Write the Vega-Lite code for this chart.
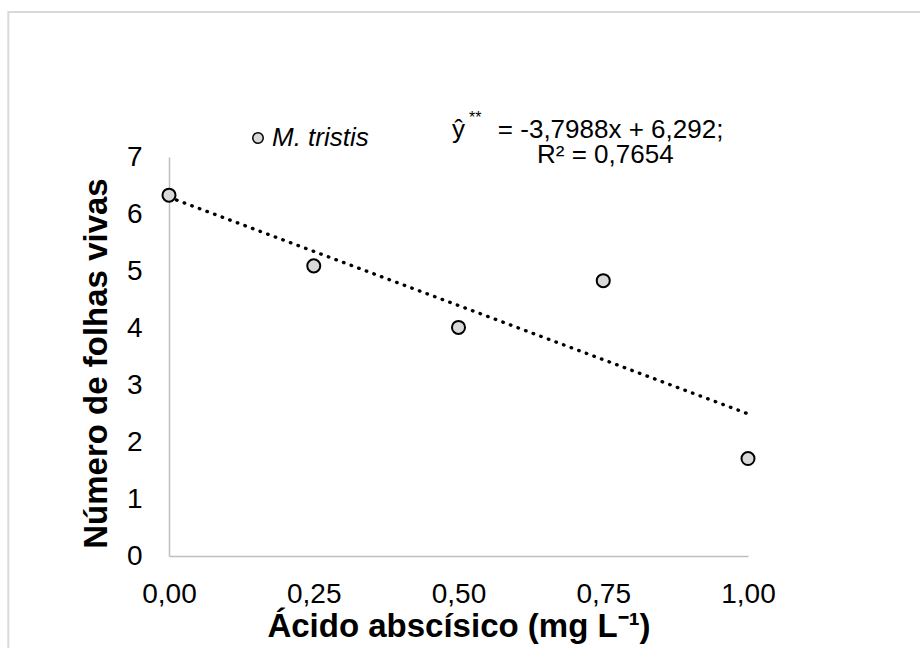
{
  "$schema": "https://vega.github.io/schema/vega-lite/v6.json",
  "autosize": {"type": "none"},
  "width": 579,
  "height": 399,
  "padding": {"left": 169, "top": 157, "right": 172, "bottom": 92},
  "background": "white",
  "config": {
    "view": {"stroke": null},
    "font": "Liberation Sans",
    "axis": {
      "domainColor": "#bfbfbf",
      "domainWidth": 1.5,
      "ticks": false,
      "grid": false,
      "labelFont": "Liberation Sans",
      "labelFontSize": 28,
      "labelColor": "black",
      "labelFlush": false,
      "titleFont": "Liberation Sans",
      "titleFontSize": 33,
      "titleFontWeight": "bold",
      "titleColor": "black"
    }
  },
  "datasets": {
    "plantas": [
      {"aba": 0.0, "folhas": 6.33},
      {"aba": 0.25, "folhas": 5.09},
      {"aba": 0.5, "folhas": 4.01},
      {"aba": 0.75, "folhas": 4.83},
      {"aba": 1.0, "folhas": 1.71}
    ],
    "nota": [{}]
  },
  "layer": [
    {
      "data": {"name": "nota"},
      "mark": {"type": "rect", "fill": null, "stroke": "#d9d9d9", "strokeWidth": 2, "clip": false},
      "encoding": {
        "x": {"datum": -0.2775, "type": "quantitative"},
        "x2": {"datum": 1.32},
        "y": {"datum": 9.544, "type": "quantitative"},
        "y2": {"datum": -2}
      }
    },
    {
      "data": {"name": "plantas"},
      "transform": [{"regression": "folhas", "on": "aba"}],
      "mark": {"type": "line", "color": "black", "strokeWidth": 3.4, "strokeCap": "round", "strokeDash": [0.5, 7.6]},
      "encoding": {
        "x": {"field": "aba", "type": "quantitative"},
        "y": {"field": "folhas", "type": "quantitative"}
      }
    },
    {
      "data": {"name": "plantas"},
      "mark": {"type": "point", "shape": "circle", "filled": true, "opacity": 1, "stroke": "black", "strokeWidth": 2, "size": 170},
      "encoding": {
        "x": {
          "field": "aba",
          "type": "quantitative",
          "scale": {"domain": [0, 1], "nice": false, "zero": false},
          "axis": {
            "values": [0, 0.25, 0.5, 0.75, 1],
            "labelExpr": "replace(format(datum.value, '.2f'), '.', ',')",
            "labelPadding": 24,
            "titlePadding": 2,
            "title": "Ácido abscísico  (mg L⁻¹)"
          }
        },
        "y": {
          "field": "folhas",
          "type": "quantitative",
          "scale": {"domain": [0, 7], "nice": false},
          "axis": {
            "values": [0, 1, 2, 3, 4, 5, 6, 7],
            "format": "d",
            "labelPadding": 27,
            "titlePadding": 13,
            "titleY": 206,
            "title": "Número de folhas vivas"
          }
        },
        "color": {
          "datum": "M. tristis",
          "type": "nominal",
          "scale": {"range": ["#d9d9d9"]},
          "legend": {
            "title": null,
            "orient": "none",
            "legendX": 76,
            "legendY": -32,
            "symbolType": "circle",
            "symbolSize": 110,
            "symbolStrokeColor": "black",
            "symbolStrokeWidth": 1.5,
            "symbolFillColor": "#d9d9d9",
            "labelFont": "Liberation Sans",
            "labelFontSize": 26,
            "labelFontStyle": "italic",
            "labelColor": "black",
            "labelOffset": 1
          }
        }
      }
    },
    {
      "data": {"name": "nota"},
      "mark": {"type": "text", "text": "ŷ", "align": "left", "baseline": "alphabetic", "fontSize": 26, "color": "black", "clip": false},
      "encoding": {
        "x": {"datum": 0.4888, "type": "quantitative"},
        "y": {"datum": 7.333, "type": "quantitative"}
      }
    },
    {
      "data": {"name": "nota"},
      "mark": {"type": "text", "text": "**", "align": "left", "baseline": "alphabetic", "fontSize": 16, "color": "black", "clip": false},
      "encoding": {
        "x": {"datum": 0.5182, "type": "quantitative"},
        "y": {"datum": 7.6, "type": "quantitative"}
      }
    },
    {
      "data": {"name": "nota"},
      "mark": {"type": "text", "text": "= -3,7988x + 6,292;", "align": "left", "baseline": "alphabetic", "fontSize": 26, "color": "black", "clip": false},
      "encoding": {
        "x": {"datum": 0.568, "type": "quantitative"},
        "y": {"datum": 7.333, "type": "quantitative"}
      }
    },
    {
      "data": {"name": "nota"},
      "mark": {"type": "text", "text": "R² = 0,7654", "align": "left", "baseline": "alphabetic", "fontSize": 26, "color": "black", "clip": false},
      "encoding": {
        "x": {"datum": 0.6356, "type": "quantitative"},
        "y": {"datum": 6.9, "type": "quantitative"}
      }
    }
  ]
}
